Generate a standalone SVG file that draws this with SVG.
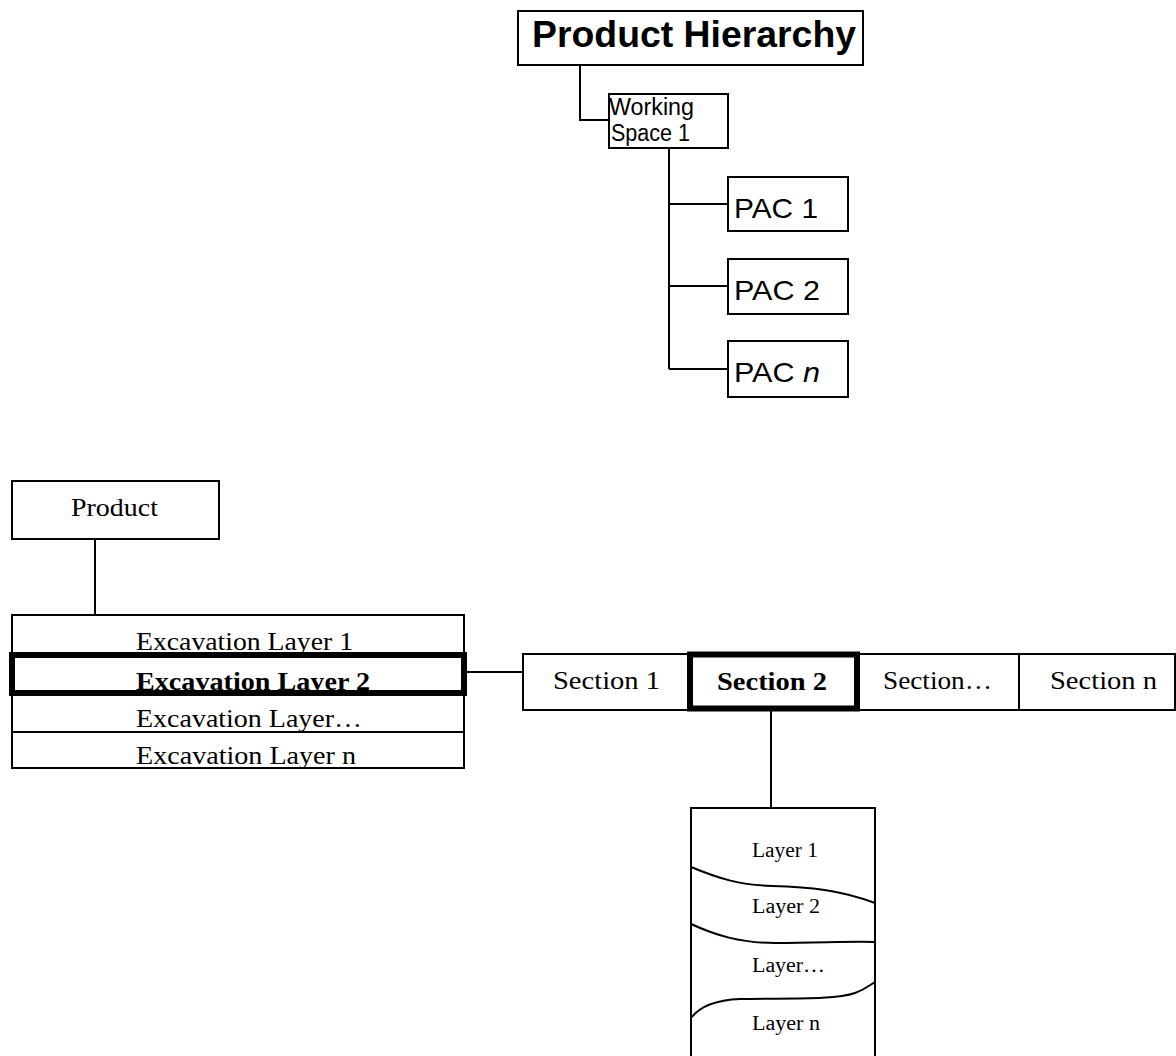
<svg xmlns="http://www.w3.org/2000/svg" width="1176" height="1056" viewBox="0 0 1176 1056">
  <style>
    .box { fill: #fff; stroke: #000; stroke-width: 2; }
    .thick { fill: none; stroke: #000; stroke-width: 6; }
    .line { fill: none; stroke: #000; stroke-width: 2; }
    .sans { font-family: "Liberation Sans", Arial, sans-serif; fill: #000; }
    .serif { font-family: "Liberation Serif", "Times New Roman", serif; fill: #000; }
    .title { font-size: 37px; font-weight: bold; }
    .ws { font-size: 23px; }
    .pac { font-size: 28px; }
    .ser { font-size: 25px; }
    .lay { font-size: 20px; }
    .b { font-weight: bold; }
  </style>
  <rect width="1176" height="1056" fill="#fff"/>

  <!-- connectors -->
  <g id="connectors">
    <polyline class="line" points="580,65 580,120 609,120"/>
    <line class="line" x1="669" y1="148" x2="669" y2="369"/>
    <line class="line" x1="669" y1="204" x2="728" y2="204"/>
    <line class="line" x1="669" y1="286" x2="728" y2="286"/>
    <line class="line" x1="669" y1="369" x2="728" y2="369"/>
    <line class="line" x1="95" y1="539" x2="95" y2="615"/>
    <line class="line" x1="467" y1="672" x2="523" y2="672"/>
    <line class="line" x1="771" y1="711" x2="771" y2="808"/>
  </g>

  <!-- product hierarchy tree -->
  <g id="product-hierarchy">
    <rect class="box" x="518" y="11" width="345" height="54"/>
    <text class="sans title" x="532" y="47" textLength="324" lengthAdjust="spacingAndGlyphs">Product Hierarchy</text>
  </g>
  <g id="working-space-1">
    <rect class="box" x="609" y="94" width="119" height="54"/>
    <text class="sans ws" x="609" y="115" textLength="85" lengthAdjust="spacingAndGlyphs">Working</text>
    <text class="sans ws" x="611" y="141" textLength="79" lengthAdjust="spacingAndGlyphs">Space 1</text>
  </g>
  <g id="pac-1">
    <rect class="box" x="728" y="177" width="120" height="54"/>
    <text class="sans pac" x="734" y="218" textLength="84" lengthAdjust="spacingAndGlyphs">PAC 1</text>
  </g>
  <g id="pac-2">
    <rect class="box" x="728" y="259" width="120" height="55"/>
    <text class="sans pac" x="734" y="300" textLength="86" lengthAdjust="spacingAndGlyphs">PAC 2</text>
  </g>
  <g id="pac-n">
    <rect class="box" x="728" y="341" width="120" height="56"/>
    <text class="sans pac" x="734" y="382" textLength="86" lengthAdjust="spacingAndGlyphs">PAC <tspan font-style="italic">n</tspan></text>
  </g>

  <!-- product -->
  <g id="product">
    <rect class="box" x="12" y="481" width="207" height="58"/>
    <text class="serif" font-size="26" x="71" y="516" textLength="87" lengthAdjust="spacingAndGlyphs">Product</text>
  </g>

  <!-- excavation layers -->
  <g id="excavation-layers">
    <rect class="box" x="12" y="615" width="452" height="153"/>
    <line class="line" x1="12" y1="732" x2="464" y2="732"/>
    <rect class="thick" x="12" y="655" width="452" height="38"/>
    <text class="serif ser" x="136" y="650" textLength="217" lengthAdjust="spacingAndGlyphs">Excavation Layer 1</text>
    <text class="serif ser b" x="136" y="690" textLength="234" lengthAdjust="spacingAndGlyphs">Excavation Layer 2</text>
    <text class="serif ser" x="136" y="727" textLength="226" lengthAdjust="spacingAndGlyphs">Excavation Layer…</text>
    <text class="serif ser" x="136" y="764" textLength="220" lengthAdjust="spacingAndGlyphs">Excavation Layer n</text>
  </g>

  <!-- sections -->
  <g id="sections">
    <rect class="box" x="523" y="654" width="652" height="56"/>
    <line class="line" x1="1019" y1="654" x2="1019" y2="710"/>
    <rect class="thick" x="690" y="654.5" width="167" height="54"/>
    <text class="serif ser" x="553" y="689" textLength="107" lengthAdjust="spacingAndGlyphs">Section 1</text>
    <text class="serif ser b" x="717" y="690" textLength="110" lengthAdjust="spacingAndGlyphs">Section 2</text>
    <text class="serif ser" x="883" y="689" textLength="109" lengthAdjust="spacingAndGlyphs">Section…</text>
    <text class="serif ser" x="1050" y="689" textLength="107" lengthAdjust="spacingAndGlyphs">Section n</text>
  </g>

  <!-- soil layers of a section -->
  <g id="layers">
    <path class="line" d="M691,1056 V808 H875 V1056"/>
    <path class="line" d="M691,867 C720,879 740,885 772,886 C810,887 840,890 875,903"/>
    <path class="line" d="M691,924 C715,935 740,943 775,943 C820,943 850,941 875,942"/>
    <path class="line" d="M691,1018 C700,1006 715,1000 740,999 C790,998 835,1000 855,993 C866,989 870,985 875,982"/>
    <text class="serif lay" x="752" y="857" textLength="66" lengthAdjust="spacingAndGlyphs">Layer 1</text>
    <text class="serif lay" x="752" y="913" textLength="68" lengthAdjust="spacingAndGlyphs">Layer 2</text>
    <text class="serif lay" x="752" y="972" textLength="73" lengthAdjust="spacingAndGlyphs">Layer…</text>
    <text class="serif lay" x="752" y="1030" textLength="68" lengthAdjust="spacingAndGlyphs">Layer n</text>
  </g>
</svg>
